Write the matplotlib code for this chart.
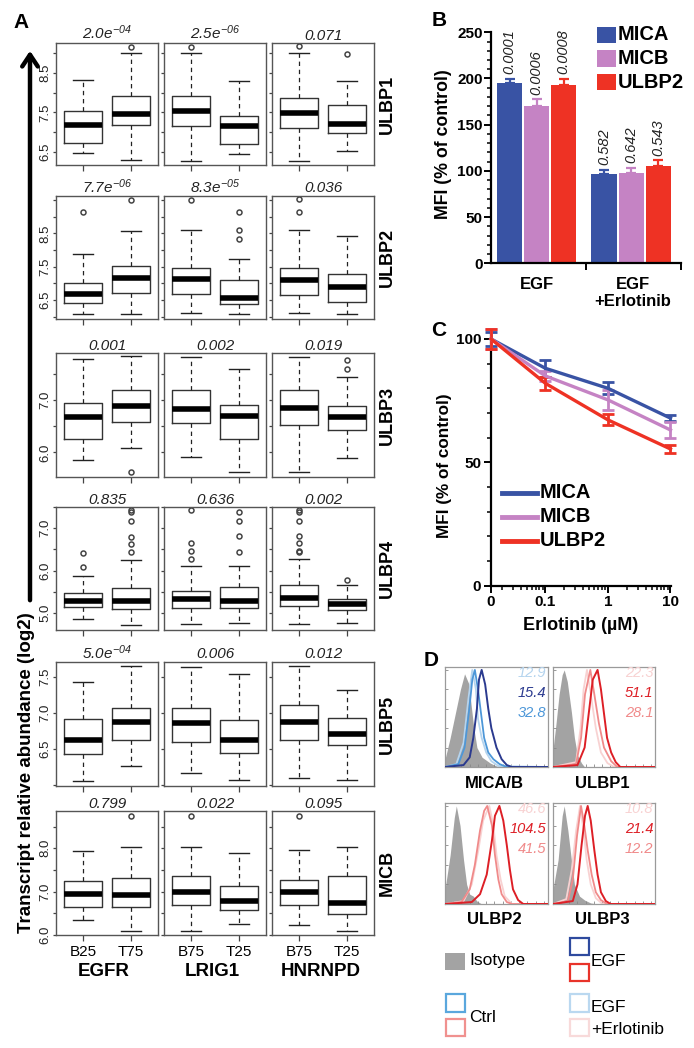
import numpy as np
import matplotlib
matplotlib.use('Agg')
import matplotlib.pyplot as plt
from matplotlib.patches import Rectangle
from matplotlib.lines import Line2D
from matplotlib.ticker import MultipleLocator, NullFormatter, LogLocator

plt.rcParams['font.family'] = ['Liberation Sans', 'DejaVu Sans']
plt.rcParams['mathtext.fontset'] = 'custom'
plt.rcParams['mathtext.it'] = 'Liberation Sans:italic'
plt.rcParams['mathtext.rm'] = 'Liberation Sans:italic'
plt.rcParams['mathtext.default'] = 'it'

W, H = 694, 1048

# ---------------- Panel A data ----------------
A_ROWS = ['ULBP1', 'ULBP2', 'ULBP3', 'ULBP4', 'ULBP5', 'MICB']
A_GENES = ['EGFR', 'LRIG1', 'HNRNPD']
A_GROUPS = [['B25', 'T75'], ['B75', 'T25'], ['B75', 'T25']]
A_PVALS = [['2.0e-04', '2.5e-06', '0.071'],
           ['7.7e-06', '8.3e-05', '0.036'],
           ['0.001', '0.002', '0.019'],
           ['0.835', '0.636', '0.002'],
           ['5.0e-04', '0.006', '0.012'],
           ['0.799', '0.022', '0.095']]
# order in each row: EGFR-B25, EGFR-T75, LRIG1-B75, LRIG1-T25, HNRNPD-B75, HNRNPD-T25
A_LO = [[6.47, 6.30, 6.27, 6.45, 6.26, 6.52],
        [6.07, 6.07, 6.10, 6.07, 6.10, 6.07],
        [5.85, 6.09, 5.92, 5.63, 5.62, 5.90],
        [4.85, 4.72, 4.74, 4.77, 4.74, 4.77],
        [6.06, 6.26, 6.17, 6.07, 6.10, 6.07],
        [6.35, 6.10, 6.10, 6.25, 6.22, 6.10]]
A_Q1 = [[6.73, 7.18, 7.17, 6.71, 7.10, 6.98],
        [6.40, 6.70, 6.68, 6.37, 6.65, 6.43],
        [6.25, 6.59, 6.57, 6.25, 6.52, 6.43],
        [5.14, 5.09, 5.11, 5.11, 5.17, 5.07],
        [6.43, 6.62, 6.60, 6.44, 6.62, 6.56],
        [6.65, 6.65, 6.69, 6.58, 6.69, 6.49]]
A_MED = [[7.18, 7.47, 7.53, 7.17, 7.49, 7.22],
         [6.67, 7.15, 7.14, 6.57, 7.10, 6.88],
         [6.67, 6.89, 6.83, 6.69, 6.85, 6.68],
         [5.29, 5.29, 5.33, 5.28, 5.35, 5.21],
         [6.63, 6.87, 6.86, 6.63, 6.87, 6.71],
         [6.95, 6.92, 6.99, 6.79, 6.99, 6.73]]
A_Q3 = [[7.54, 7.91, 7.93, 7.42, 7.87, 7.70],
        [7.00, 7.53, 7.47, 7.10, 7.47, 7.28],
        [6.95, 7.20, 7.19, 6.91, 7.19, 6.89],
        [5.48, 5.58, 5.53, 5.61, 5.66, 5.33],
        [6.91, 7.07, 7.07, 6.90, 7.11, 6.93],
        [7.25, 7.31, 7.36, 7.13, 7.27, 7.36]]
A_HI = [[8.32, 9.00, 9.00, 8.31, 9.01, 8.30],
        [7.88, 8.57, 8.60, 7.72, 8.60, 8.43],
        [7.78, 7.84, 7.82, 7.60, 7.82, 7.45],
        [5.87, 6.26, 6.11, 6.12, 6.27, 5.66],
        [7.42, 7.64, 7.63, 7.54, 7.65, 7.32],
        [7.94, 8.03, 8.02, 7.90, 7.95, 8.02]]
A_OUT = [[[], [9.16], [9.16], [], [9.18], [8.99]],
         [[9.13], [9.50], [9.50], [9.14, 8.60, 8.32], [9.52, 9.14], []],
         [[], [5.63], [], [], [], [7.76, 7.59]],
         [[6.41, 6.09], [7.43, 7.38, 7.16, 6.79, 6.63, 6.43], [7.43, 6.65, 6.46, 6.27],
          [7.38, 7.17, 6.81, 6.43], [7.43, 7.38, 7.17, 6.81, 6.65, 6.46, 6.43], [5.79]],
         [[], [], [], [], [], []],
         [[], [8.75], [8.75], [], [8.75], []]]
A_YLIM = [(6.17, 9.26), (5.93, 9.62), (5.53, 7.90), (4.60, 7.50), (5.99, 7.70), (6.0, 8.86)]
A_YTICKS = [[6.5, 7.0, 7.5, 8.0, 8.5, 9.0],
            [6.0, 6.5, 7.0, 7.5, 8.0, 8.5, 9.0, 9.5],
            [6.0, 6.5, 7.0, 7.5],
            [5.0, 5.5, 6.0, 6.5, 7.0, 7.5],
            [6.0, 6.5, 7.0, 7.5],
            [6.0, 6.5, 7.0, 7.5, 8.0, 8.5]]
A_YLABELED = [[6.5, 7.5, 8.5], [6.5, 7.5, 8.5], [6.0, 7.0], [5.0, 6.0, 7.0],
              [6.5, 7.0, 7.5], [6.0, 7.0, 8.0]]

# ---------------- Panel B data ----------------
B_MARKERS = ['MICA', 'MICB', 'ULBP2']
B_EGF = [195.0, 170.0, 193.0]
B_EGF_ERR = [4.7, 7.6, 6.5]
B_EGF_P = ['0.0001', '0.0006', '0.0008']
B_ERL = [96.6, 97.4, 105.6]
B_ERL_ERR = [4.4, 6.1, 5.9]
B_ERL_P = ['0.582', '0.642', '0.543']

# ---------------- Panel C data ----------------
C_DOSE = [0, 0.1, 1, 10]
C_MICA = [100.0, 88.1, 80.0, 67.9]
C_MICA_ERR = [3.0, 3.5, 2.5, 1.3]
C_MICB = [100.0, 85.0, 75.3, 63.1]
C_MICB_ERR = [4.0, 2.0, 4.0, 3.4]
C_ULBP2 = [100.0, 82.0, 67.2, 55.4]
C_ULBP2_ERR = [4.0, 2.6, 2.2, 1.5]

# ---------------- Panel D data (fluorescence channel %, % of max) ----------------
D_TITLES = ['MICA/B', 'ULBP1', 'ULBP2', 'ULBP3']
D_NUMS = [['12.9', '15.4', '32.8'], ['22.3', '51.1', '28.1'],
          ['46.6', '104.5', '41.5'], ['10.8', '21.4', '12.2']]
micab_iso_x = [0, 5, 10, 15, 19, 23, 26, 28, 31, 36, 44, 50, 55]
micab_iso_y = [8, 30, 55, 80, 96, 86, 58, 40, 20, 10, 4, 1, 0]
micab_egf_x = [0, 18, 24, 27.5, 31, 33, 35.6, 39, 42, 45, 50, 55, 60, 65, 100]
micab_egf_y = [0, 2, 10, 30, 60, 90, 100, 85, 60, 40, 20, 8, 2, 0, 0]
micab_ctrl_x = [0, 13, 19, 23.6, 26.5, 29, 32, 35, 38, 42, 47, 53, 60, 100]
micab_ctrl_y = [0, 3, 20, 60, 90, 100, 80, 55, 30, 15, 8, 3, 0, 0]
micab_erl_x = [0, 11, 18, 22.7, 26.5, 30, 32, 35.6, 40, 45, 52, 100]
micab_erl_y = [0, 3, 25, 70, 100, 80, 50, 30, 15, 6, 1, 0]

ulbp1_iso_x = [0, 3, 6, 9, 11, 14, 18, 21, 24, 28, 31]
ulbp1_iso_y = [18, 45, 75, 95, 100, 88, 57, 30, 12, 4, 0]
ulbp1_egf_x = [0, 24, 31, 35.6, 39, 43.7, 47, 50, 53, 57, 61.5, 66, 100]
ulbp1_egf_y = [0, 2, 20, 60, 90, 100, 80, 55, 30, 15, 5, 0, 0]
ulbp1_ctrl_x = [0, 22.6, 27.5, 31.4, 36.6, 40.5, 45, 50, 57, 63, 100]
ulbp1_ctrl_y = [0, 3, 30, 75, 100, 75, 45, 20, 6, 0, 0]
ulbp1_erl_x = [0, 22.6, 27, 30, 33.3, 37, 42, 47, 53.4, 60, 100]
ulbp1_erl_y = [0, 5, 40, 80, 100, 75, 40, 15, 4, 0, 0]

ulbp2_iso_x = [0, 5, 9, 11, 14.6, 18, 21, 24, 27.5, 31, 35.6]
ulbp2_iso_y = [15, 50, 88, 100, 80, 45, 20, 10, 8, 3, 0]
ulbp2_egf_x = [0, 26, 34, 40.5, 45.6, 48.5, 52.8, 56.6, 60, 63, 66, 71, 76, 100]
ulbp2_egf_y = [0, 2, 10, 30, 65, 90, 100, 85, 60, 35, 15, 4, 0, 0]
ulbp2_ctrl_x = [0, 16, 24, 29, 34, 38, 41, 45.6, 48.5, 51.8, 55, 60, 65, 100]
ulbp2_ctrl_y = [0, 2, 15, 40, 75, 95, 100, 80, 50, 25, 10, 2, 0, 0]
ulbp2_erl_x = [0, 18, 26, 32.4, 37, 43, 47, 50, 54, 58, 65, 100]
ulbp2_erl_y = [0, 3, 20, 55, 85, 100, 80, 50, 25, 8, 0, 0]

ulbp3_iso_x = [0, 5, 9, 11, 14.6, 18, 21, 26, 31, 37, 44]
ulbp3_iso_y = [15, 45, 90, 100, 75, 45, 20, 8, 4, 1, 0]
ulbp3_egf_x = [0, 19.4, 24, 28, 31.4, 34, 37, 40.5, 43.7, 47, 51.8, 56.6, 100]
ulbp3_egf_y = [0, 3, 20, 60, 90, 100, 85, 55, 30, 12, 3, 0, 0]
ulbp3_ctrl_x = [0, 14.6, 19.4, 23.6, 27.5, 30.7, 34, 37.9, 42, 47, 53, 100]
ulbp3_ctrl_y = [0, 3, 25, 70, 100, 80, 55, 30, 12, 4, 0, 0]
ulbp3_erl_x = [0, 13, 18.4, 22.7, 26.5, 30, 33, 37, 42, 48.5, 100]
ulbp3_erl_y = [0, 5, 35, 75, 100, 75, 45, 20, 6, 0, 0]

# ---------------- colours ----------------
C_BLUE, C_PURP, C_RED = '#3953a4', '#c583c4', '#ee3224'
BLUE_EGF, BLUE_CTRL, BLUE_ERL = '#2b3a8f', '#4d97d8', '#b5d4ee'
RED_EGF, PINK_CTRL, PINK_ERL = '#dd1f26', '#f08a8a', '#f8d2d2'
ISO = '#a3a3a3'

fig = plt.figure(figsize=(W / 100, H / 100), dpi=100)


def px_axes(l, t, r, b):
    return fig.add_axes([l / W, 1 - b / H, (r - l) / W, (b - t) / H])


def ftext(x, y, s, **kw):
    return fig.text(x / W, 1 - y / H, s, **kw)


def frect(x0, y0, x1, y1, **kw):
    fig.add_artist(Rectangle((x0 / W, 1 - y1 / H), (x1 - x0) / W, (y1 - y0) / H,
                             transform=fig.transFigure, **kw))


def ptext(s):
    if 'e' in s:
        base, ex = s.split('e')
        return r'$' + base + r'e^{' + ex + r'}$'
    return s


# ================= Panel A =================
A_COLS_PX = [(56, 158), (164, 266), (272, 374)]
A_ROWS_PX = [(43, 165), (196, 319), (353, 477), (507, 630), (662, 786), (811, 935)]

for r in range(6):
    rt, rb = A_ROWS_PX[r]
    for c in range(3):
        cl, cr = A_COLS_PX[c]
        ax = px_axes(cl, rt, cr, rb)
        stats = []
        for k in range(2):
            i = 2 * c + k
            stats.append(dict(med=A_MED[r][i], q1=A_Q1[r][i], q3=A_Q3[r][i],
                              whislo=A_LO[r][i], whishi=A_HI[r][i], fliers=A_OUT[r][i]))
        ax.bxp(stats, positions=[1, 2], widths=0.8, capwidths=0.43, manage_ticks=False,
               boxprops=dict(color='#333333', lw=1.0),
               whiskerprops=dict(color='#222222', lw=0.9, ls=(0, (3.5, 3))),
               capprops=dict(color='#222222', lw=1.0),
               medianprops=dict(color='black', lw=4, solid_capstyle='butt'),
               flierprops=dict(marker='o', mfc='none', mec='#444444', ms=3.6, mew=1.1))
        ax.set_xlim(0.43, 2.57)
        ax.set_ylim(*A_YLIM[r])
        for sp in ax.spines.values():
            sp.set_color('#555555')
            sp.set_linewidth(1.0)
        ax.set_xticks([1, 2])
        ax.tick_params(axis='x', length=4.5, width=0.9, color='#444444', pad=3, labelsize=11)
        if r == 5:
            ax.set_xticklabels(A_GROUPS[c])
        else:
            ax.set_xticklabels(['', ''])
        ax.set_yticks(A_YTICKS[r])
        ax.tick_params(axis='y', length=2.5, width=0.9, color='#444444', pad=1, labelsize=9.5)
        if c == 0:
            ax.set_yticklabels([f'{t:.1f}' if t in A_YLABELED[r] else '' for t in A_YTICKS[r]],
                               rotation=90, va='center', color='#222222')
        else:
            ax.set_yticklabels(['' for t in A_YTICKS[r]])
        ftext((cl + cr) / 2, rt - 3.5, ptext(A_PVALS[r][c]), ha='center', va='baseline',
              fontsize=11, style='italic', color='#222222')
    ftext(387, (rt + rb) / 2, A_ROWS[r], rotation=90, ha='center', va='center',
          fontsize=13, fontweight='bold')

for c, g in enumerate(A_GENES):
    ftext([104, 212, 321][c], 972, g, ha='center', va='center', fontsize=13.5, fontweight='bold')

ftext(27, 773, 'Transcript relative abundance (log2)', rotation=90, ha='center', va='center',
      fontsize=13.5, fontweight='bold')
fig.add_artist(matplotlib.patches.FancyArrowPatch(
    (30 / W, 1 - 603 / H), (30 / W, 1 - 48 / H), transform=fig.transFigure,
    arrowstyle='->,head_length=0.6,head_width=0.4', mutation_scale=14, lw=3.2, color='black'))
ftext(21, 22, 'A', ha='center', va='center', fontsize=15, fontweight='bold')

# ================= Panel B =================
axB = px_axes(491, 32.3, 681, 263.3)
gc = [0.48, 1.475]
offs = [-0.285, 0.0, 0.285]
bcol = [C_BLUE, C_PURP, C_RED]
for i in range(3):
    xs = [gc[0] + offs[i], gc[1] + offs[i]]
    ys = [B_EGF[i], B_ERL[i]]
    es = [B_EGF_ERR[i], B_ERL_ERR[i]]
    axB.bar(xs, ys, width=0.265, color=bcol[i], zorder=2)
    axB.errorbar(xs, ys, yerr=[[0, 0], es], fmt='none', ecolor=bcol[i], elinewidth=1.6,
                 capsize=3.5, capthick=1.6, zorder=3)
    for x, y, e, p in zip(xs, ys, es, [B_EGF_P[i], B_ERL_P[i]]):
        axB.text(x, y + e + 5, p, rotation=90, ha='center', va='bottom', fontsize=10.5,
                 style='italic', color='#222222')
axB.set_xlim(0, 2)
axB.set_ylim(0, 250)
for s in ['top', 'right']:
    axB.spines[s].set_visible(False)
for s in ['left', 'bottom']:
    axB.spines[s].set_linewidth(1.6)
axB.yaxis.set_major_locator(MultipleLocator(50))
axB.yaxis.set_minor_locator(MultipleLocator(10))
axB.set_xticks([1, 2])
axB.set_xticklabels(['', ''])
axB.tick_params(axis='y', which='major', length=5, width=1.4, labelsize=11, pad=1)
axB.tick_params(axis='y', which='minor', length=3, width=1.1)
axB.tick_params(axis='x', length=5, width=1.4)
for lab in axB.get_yticklabels():
    lab.set_fontweight('bold')
ftext(444, 144, 'MFI (% of control)', rotation=90, ha='center', va='center', fontsize=12.8,
      fontweight='bold')
ftext(537, 284, 'EGF', ha='center', va='center', fontsize=12, fontweight='bold')
ftext(633, 284, 'EGF', ha='center', va='center', fontsize=12, fontweight='bold')
ftext(633, 302, '+Erlotinib', ha='center', va='center', fontsize=12, fontweight='bold')
for i, (nm, col) in enumerate(zip(B_MARKERS, bcol)):
    yc = [35, 58.5, 82][i]
    frect(597, yc - 8, 616, yc + 8, facecolor=col, edgecolor='none')
    ftext(618, yc, nm, ha='left', va='center', fontsize=14.5, fontweight='bold')
ftext(439, 20, 'B', ha='center', va='center', fontsize=15, fontweight='bold')

# ================= Panel C =================
X_ZERO = 0.0135
axC = px_axes(491, 333, 671, 585.7)
axC.set_xscale('log')
xpos = [d if d > 0 else X_ZERO for d in C_DOSE]
for yv, ev, col, nm in [(C_MICA, C_MICA_ERR, C_BLUE, 'MICA'),
                        (C_MICB, C_MICB_ERR, C_PURP, 'MICB'),
                        (C_ULBP2, C_ULBP2_ERR, C_RED, 'ULBP2')]:
    axC.errorbar(xpos, yv, yerr=ev, color=col, lw=2.4, elinewidth=2.0, capsize=4.5,
                 capthick=2.0, clip_on=False, zorder=3)
axC.set_xlim(X_ZERO, 10.2)
axC.set_ylim(0, 102.4)
for s in ['top', 'right']:
    axC.spines[s].set_visible(False)
for s in ['left', 'bottom']:
    axC.spines[s].set_linewidth(1.6)
axC.set_xticks([X_ZERO, 0.1, 1, 10])
axC.set_xticklabels(['0', '0.1', '1', '10'])
axC.xaxis.set_minor_locator(LogLocator(base=10, subs=np.arange(2, 10) * 1.0, numticks=20))
axC.xaxis.set_minor_formatter(NullFormatter())
axC.yaxis.set_major_locator(MultipleLocator(50))
axC.yaxis.set_minor_locator(MultipleLocator(10))
axC.tick_params(which='major', length=5, width=1.4, labelsize=11, pad=2)
axC.tick_params(which='minor', length=3, width=1.1)
for lab in axC.get_yticklabels() + axC.get_xticklabels():
    lab.set_fontweight('bold')
ftext(444, 466, 'MFI (% of control)', rotation=90, ha='center', va='center', fontsize=12.3,
      fontweight='bold')
ftext(581, 625, 'Erlotinib (µM)', ha='center', va='center', fontsize=13, fontweight='bold')
for i, (nm, col) in enumerate(zip(['MICA', 'MICB', 'ULBP2'], [C_BLUE, C_PURP, C_RED])):
    yc = [493, 517, 541][i]
    fig.add_artist(Line2D([502 / W, 537 / W], [1 - yc / H, 1 - yc / H], color=col, lw=3.5,
                          transform=fig.transFigure))
    ftext(540, yc, nm, ha='left', va='center', fontsize=14.5, fontweight='bold')
ftext(439, 331, 'C', ha='center', va='center', fontsize=15, fontweight='bold')

# ================= Panel D =================
D_BOX = [(445, 667, 548, 767), (553, 667, 655, 767), (445, 803, 548, 904), (553, 803, 655, 904)]
D_CURVES = [
    (micab_iso_x, micab_iso_y, micab_erl_x, micab_erl_y, micab_ctrl_x, micab_ctrl_y, micab_egf_x, micab_egf_y),
    (ulbp1_iso_x, ulbp1_iso_y, ulbp1_erl_x, ulbp1_erl_y, ulbp1_ctrl_x, ulbp1_ctrl_y, ulbp1_egf_x, ulbp1_egf_y),
    (ulbp2_iso_x, ulbp2_iso_y, ulbp2_erl_x, ulbp2_erl_y, ulbp2_ctrl_x, ulbp2_ctrl_y, ulbp2_egf_x, ulbp2_egf_y),
    (ulbp3_iso_x, ulbp3_iso_y, ulbp3_erl_x, ulbp3_erl_y, ulbp3_ctrl_x, ulbp3_ctrl_y, ulbp3_egf_x, ulbp3_egf_y),
]
for k in range(4):
    l, t, rr, b = D_BOX[k]
    ax = px_axes(l, t, rr, b)
    ix, iy, ex, ey, cx, cy, gx, gy = D_CURVES[k]
    if k == 0:
        cols = [BLUE_ERL, BLUE_CTRL, BLUE_EGF]
    else:
        cols = [PINK_ERL, PINK_CTRL, RED_EGF]
    ax.fill_between(ix, iy, 0, color=ISO, lw=0, zorder=1)
    ax.plot(ex, ey, color=cols[0], lw=1.3, zorder=2)
    ax.plot(cx, cy, color=cols[1], lw=1.3, zorder=3)
    ax.plot(gx, gy, color=cols[2], lw=1.4, zorder=4)
    ax.set_xlim(0, 100)
    ax.set_ylim(0, 103)
    for sp in ax.spines.values():
        sp.set_color('#9a9a9a')
        sp.set_linewidth(0.9)
    ax.xaxis.set_major_locator(MultipleLocator(8))
    ax.yaxis.set_major_locator(MultipleLocator(20))
    ax.set_xticklabels([])
    ax.set_yticklabels([])
    ax.tick_params(length=2, width=0.6, color='#888888', direction='in')
    numcols = [cols[0], cols[2], cols[1]]
    for j in range(3):
        ftext(rr - 1.5, t + [6, 26, 46][j], D_NUMS[k][j], ha='right', va='center',
              fontsize=10.5, style='italic', color=numcols[j])
    ftext((l + rr) / 2 - 2, b + 16, D_TITLES[k], ha='center', va='center', fontsize=12,
          fontweight='bold')

frect(445, 953, 465, 970, facecolor=ISO, edgecolor='none')
ftext(469, 961, 'Isotype', ha='left', va='center', fontsize=12.5)
frect(569.5, 937.5, 588.5, 955, facecolor='none', edgecolor='#2e4a9e', lw=1.6)
frect(569.5, 963.5, 588.5, 981, facecolor='none', edgecolor='#e8332a', lw=1.6)
ftext(591, 961, 'EGF', ha='left', va='center', fontsize=12.5)
frect(445.5, 994, 464.5, 1011.5, facecolor='none', edgecolor='#5aa7dd', lw=1.6)
frect(445.5, 1019, 464.5, 1036, facecolor='none', edgecolor='#f0918f', lw=1.6)
ftext(469, 1017, 'Ctrl', ha='left', va='center', fontsize=12.5)
frect(569.5, 994, 588.5, 1011.5, facecolor='none', edgecolor='#bad8f0', lw=1.6)
frect(569.5, 1019, 588.5, 1036, facecolor='none', edgecolor='#f8dada', lw=1.6)
ftext(591, 1007, 'EGF', ha='left', va='center', fontsize=12.5)
ftext(591, 1030, '+Erlotinib', ha='left', va='center', fontsize=12.5)
ftext(431, 660, 'D', ha='center', va='center', fontsize=15, fontweight='bold')

fig.savefig('out.png', dpi=100)
